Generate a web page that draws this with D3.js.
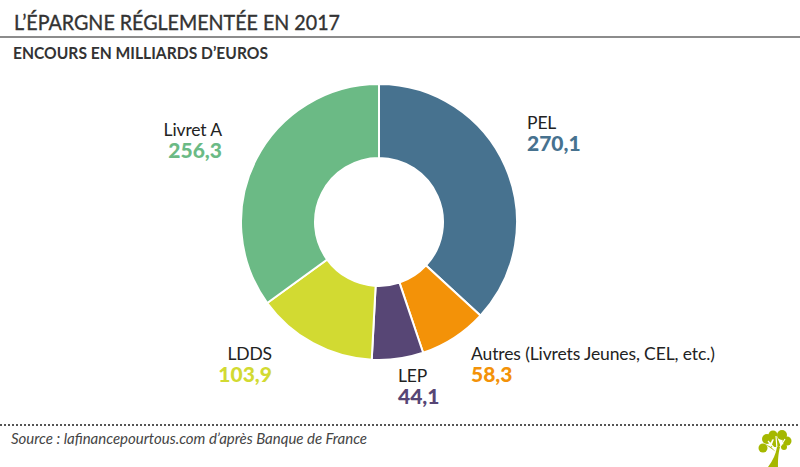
<!DOCTYPE html>
<html lang="fr">
<head>
    <meta charset="UTF-8">
    <title>L'épargne réglementée en 2017</title>
    <script src="https://cdnjs.cloudflare.com/ajax/libs/d3/7.8.5/d3.min.js"></script>
    <style>
        html, body { margin: 0; background: #fff; overflow: hidden; }
        svg { display: block; font-family: Lato, sans-serif; }
    </style>
</head>
<body>
    <svg id="chart" width="800" height="467"></svg>
    <script>
        const names = ["PEL", "Autres (Livrets Jeunes, CEL, etc.)", "LEP", "LDDS", "Livret A"];
        const values = [270.1, 58.3, 44.1, 103.9, 256.3];
        const colors = ["#47728f", "#f39208", "#574675", "#d2da32", "#6bba85"];
        const labelX = [527, 471, 398, 272, 222];
        const labelY = [129, 360, 382, 360, 136];
        const labelAnchor = ["start", "start", "start", "end", "end"];

        const svg = d3.select("#chart");
        const fmt = v => String(v).replace(".", ",");

        // header
        svg.append("text").attr("x", 14).attr("y", 30)
            .attr("font-size", 21).attr("fill", "#333")
            .attr("stroke", "#333").attr("stroke-width", 0.35)
            .attr("textLength", 326).attr("lengthAdjust", "spacingAndGlyphs")
            .text("L’ÉPARGNE RÉGLEMENTÉE EN 2017");
        svg.append("line").attr("x1", 0).attr("x2", 800).attr("y1", 37).attr("y2", 37)
            .attr("stroke", "#666").attr("stroke-width", 1.5);
        svg.append("text").attr("x", 13).attr("y", 59)
            .attr("font-size", 17).attr("font-weight", 700).attr("fill", "#333")
            .attr("textLength", 255).attr("lengthAdjust", "spacingAndGlyphs")
            .text("ENCOURS EN MILLIARDS D’EUROS");

        // donut
        const pie = d3.pie().sort(null)(values);
        const arc = d3.arc().innerRadius(64).outerRadius(138);
        svg.append("g").attr("transform", "translate(379,222)")
            .selectAll("path").data(pie).join("path")
            .attr("d", arc)
            .attr("fill", (d, i) => colors[i])
            .attr("stroke", "#fff").attr("stroke-width", 2);

        // labels
        const labels = svg.append("g").selectAll("g").data(names).join("g")
            .attr("text-anchor", (d, i) => labelAnchor[i]);
        labels.append("text")
            .attr("x", (d, i) => labelX[i]).attr("y", (d, i) => labelY[i])
            .attr("font-size", 17.5).attr("letter-spacing", -0.12).attr("fill", "#222")
            .text(d => d);
        labels.append("text")
            .attr("x", (d, i) => labelX[i]).attr("y", (d, i) => labelY[i] + 22)
            .attr("font-size", 21).attr("font-weight", 900)
            .attr("fill", (d, i) => colors[i])
            .text((d, i) => fmt(values[i]));

        // footer
        svg.append("line").attr("x1", 0).attr("x2", 800).attr("y1", 425).attr("y2", 425)
            .attr("stroke", "#555").attr("stroke-width", 2).attr("stroke-dasharray", "2 2");
        svg.append("text").attr("x", 11).attr("y", 444)
            .attr("font-size", 15).attr("font-style", "italic").attr("fill", "#444")
            .attr("textLength", 356).attr("lengthAdjust", "spacing")
            .text("Source : lafinancepourtous.com d’après Banque de France");

        // tree logo
        const logo = svg.append("g").attr("fill", "#a5b800");
        [[763, 448, 4.5], [767, 439, 5], [773, 435, 4.5], [782, 435, 5], [787, 441, 4.5], [784, 447, 3]].forEach(c => {
            logo.append("circle").attr("cx", c[0]).attr("cy", c[1]).attr("r", c[2]);
        });
        logo.append("path").attr("d", "M771 447 L776 434 L781 447 Z M771 447 L765 444 L776 452 Z");
        logo.append("path").attr("d", "M776 450 L768 441 M777 449 L776 436 M778 450 L785 439")
            .attr("stroke", "#fff").attr("stroke-width", 1.2).attr("fill", "none");
        logo.append("path").attr("d", "M768 467 C773 460 776 454 777 447 L780 447 C778 455 778 460 778 467 Z");
    </script>
</body>
</html>
